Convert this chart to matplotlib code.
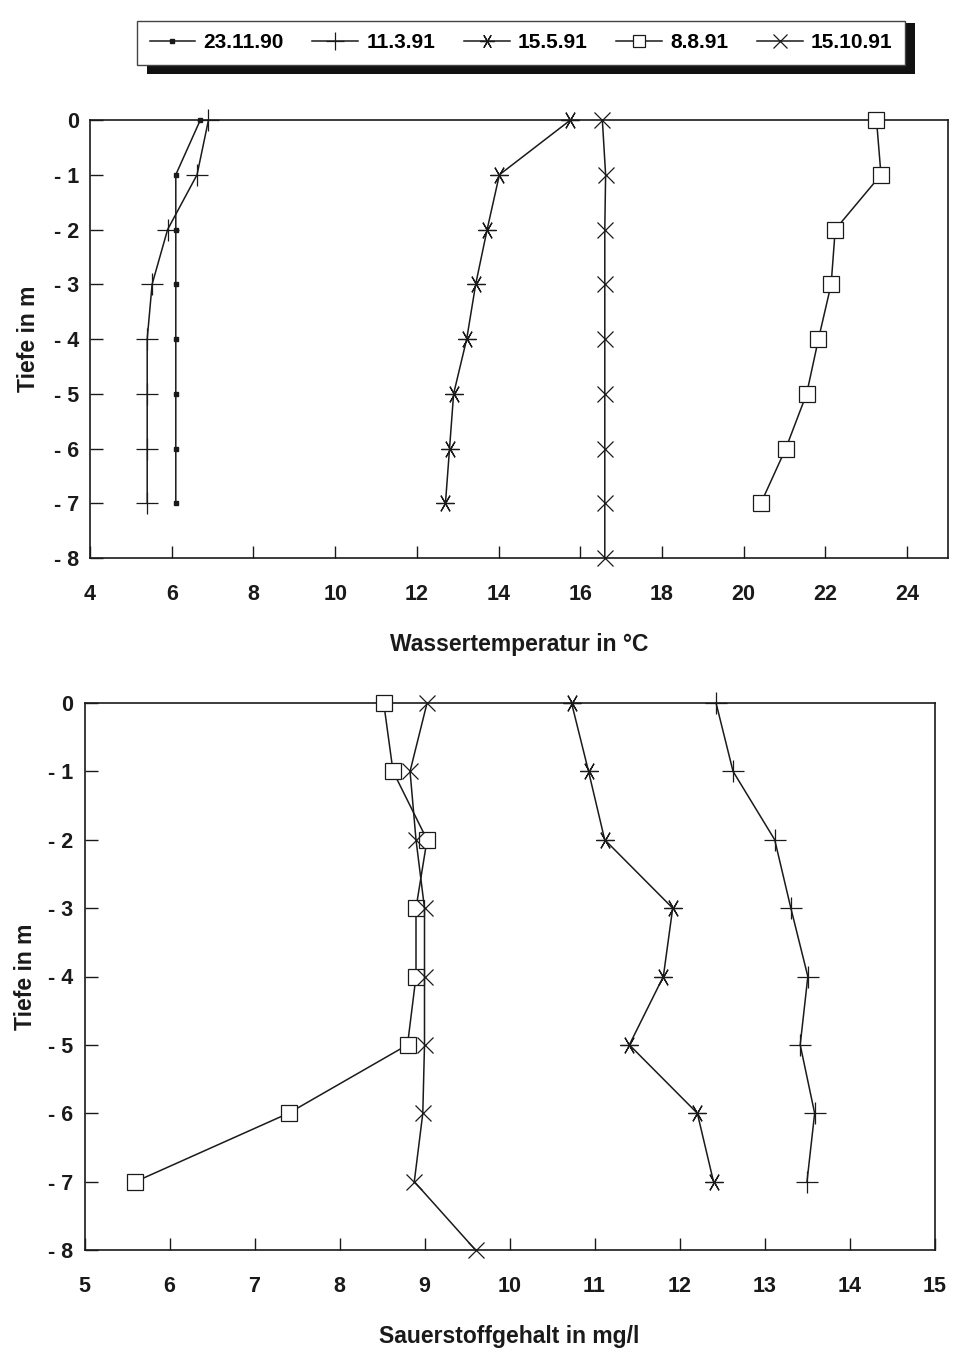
import numpy as np
import matplotlib
matplotlib.use('Agg')
import matplotlib.pyplot as plt
from matplotlib.patches import Rectangle
from matplotlib.lines import Line2D

plt.rcParams['font.family'] = ['Liberation Sans', 'DejaVu Sans']
plt.rcParams['font.weight'] = 'bold'

# Daten: Tiefe (m) und Messwerte
tiefe = [0, -1, -2, -3, -4, -5, -6, -7]
tiefe8 = [0, -1, -2, -3, -4, -5, -6, -7, -8]

# Wassertemperatur in °C
temp_231190 = [6.7, 6.1, 6.1, 6.1, 6.1, 6.1, 6.1, 6.1]
temp_110391 = [6.9, 6.62, 5.9, 5.52, 5.4, 5.4, 5.4, 5.4]
temp_150591 = [15.76, 14.02, 13.72, 13.44, 13.22, 12.9, 12.8, 12.7]
temp_080891 = [23.25, 23.36, 22.24, 22.14, 21.83, 21.54, 21.03, 20.42]
temp_151091 = [16.54, 16.62, 16.6, 16.6, 16.6, 16.6, 16.6, 16.6, 16.6]

# Sauerstoffgehalt in mg/l
o2_110391 = [12.43, 12.63, 13.12, 13.31, 13.51, 13.42, 13.59, 13.5]
o2_150591 = [10.73, 10.93, 11.12, 11.92, 11.81, 11.41, 12.21, 12.4]
o2_080891 = [8.52, 8.63, 9.03, 8.9, 8.9, 8.8, 7.4, 5.6]
o2_151091 = [9.03, 8.83, 8.9, 9.0, 9.0, 9.0, 8.98, 8.88, 9.6]

labels = ['23.11.90', '11.3.91', '15.5.91', '8.8.91', '15.10.91']

ink = '#1a1a1a'
asterisk = (6, 2, 90)
styles = {
    '23.11.90': dict(marker='s', ms=3.5, mfc=ink, mec=ink),
    '11.3.91': dict(marker='+', ms=16, mew=0.9),
    '15.5.91': dict(marker=asterisk, ms=13, mew=0.9),
    '8.8.91': dict(marker='s', ms=11, mfc='white', mec=ink, mew=0.9),
    '15.10.91': dict(marker='x', ms=12, mew=0.9),
}

W, H = 958, 1352
fig = plt.figure(figsize=(W / 100, H / 100), dpi=100)


def make_axes(rect, xlim, xticks):
    ax = fig.add_axes(rect)
    ax.set_xlim(*xlim)
    ax.set_ylim(-8, 0)
    ax.set_xticks(xticks)
    ax.set_yticks(range(0, -9, -1))
    ax.set_yticklabels(['0'] + [f'- {n}' for n in range(1, 9)])
    ax.tick_params(direction='in', length=9, width=1.0, color=ink,
                   labelsize=15.5, labelcolor=ink)
    ax.tick_params(axis='x', pad=19)
    ax.tick_params(axis='y', pad=8)
    for lab in ax.get_xticklabels() + ax.get_yticklabels():
        lab.set_fontweight('bold')
    for s in ax.spines.values():
        s.set_color(ink)
        s.set_linewidth(1.2)
    return ax


def kurve(ax, x, y, name):
    ax.plot(x, y, color=ink, lw=1.1, clip_on=False, zorder=3, **styles[name])


# oberes Diagramm: Temperatur
ax1 = make_axes([90 / W, 1 - 558 / H, 858 / W, 438 / H], (4, 25), range(4, 25, 2))
kurve(ax1, temp_231190, tiefe, '23.11.90')
kurve(ax1, temp_110391, tiefe, '11.3.91')
kurve(ax1, temp_150591, tiefe, '15.5.91')
kurve(ax1, temp_080891, tiefe, '8.8.91')
kurve(ax1, temp_151091, tiefe8, '15.10.91')
ax1.set_xlabel('Wassertemperatur in °C', fontsize=16.5, fontweight='bold', labelpad=20, color=ink)
ax1.set_ylabel('Tiefe in m', fontsize=16.5, fontweight='bold', labelpad=10, color=ink)

# unteres Diagramm: Sauerstoff
ax2 = make_axes([84.5 / W, 1 - 1250 / H, 850 / W, 547 / H], (5, 15), range(5, 16))
kurve(ax2, o2_110391, tiefe, '11.3.91')
kurve(ax2, o2_150591, tiefe, '15.5.91')
kurve(ax2, o2_080891, tiefe, '8.8.91')
kurve(ax2, o2_151091, tiefe8, '15.10.91')
ax2.set_xlabel('Sauerstoffgehalt in mg/l', fontsize=16.5, fontweight='bold', labelpad=20, color=ink)
ax2.set_ylabel('Tiefe in m', fontsize=16.5, fontweight='bold', labelpad=8, color=ink)

# Legende mit Schatten
handles = [Line2D([], [], color=ink, lw=1.1, **styles[n]) for n in labels]
leg_box = (137 / W, 1 - 65 / H, 768 / W, 51 / H)
fig.patches.append(Rectangle((147 / W, 1 - 74 / H), 768 / W, 51 / H,
                             transform=fig.transFigure, facecolor='#111111',
                             edgecolor='none', zorder=1))
leg = fig.legend(handles=handles, labels=labels, loc='lower left',
                 bbox_to_anchor=leg_box, mode='expand', ncol=5, borderaxespad=0,
                 fancybox=False, framealpha=1, edgecolor='#444444',
                 prop={'size': 15, 'weight': 'bold'}, handlelength=2.2,
                 handletextpad=0.4, borderpad=0.6, markerscale=0.8)
leg.set_zorder(5)
leg.get_frame().set_linewidth(1.0)

fig.savefig('out.png', dpi=100, facecolor='white')
